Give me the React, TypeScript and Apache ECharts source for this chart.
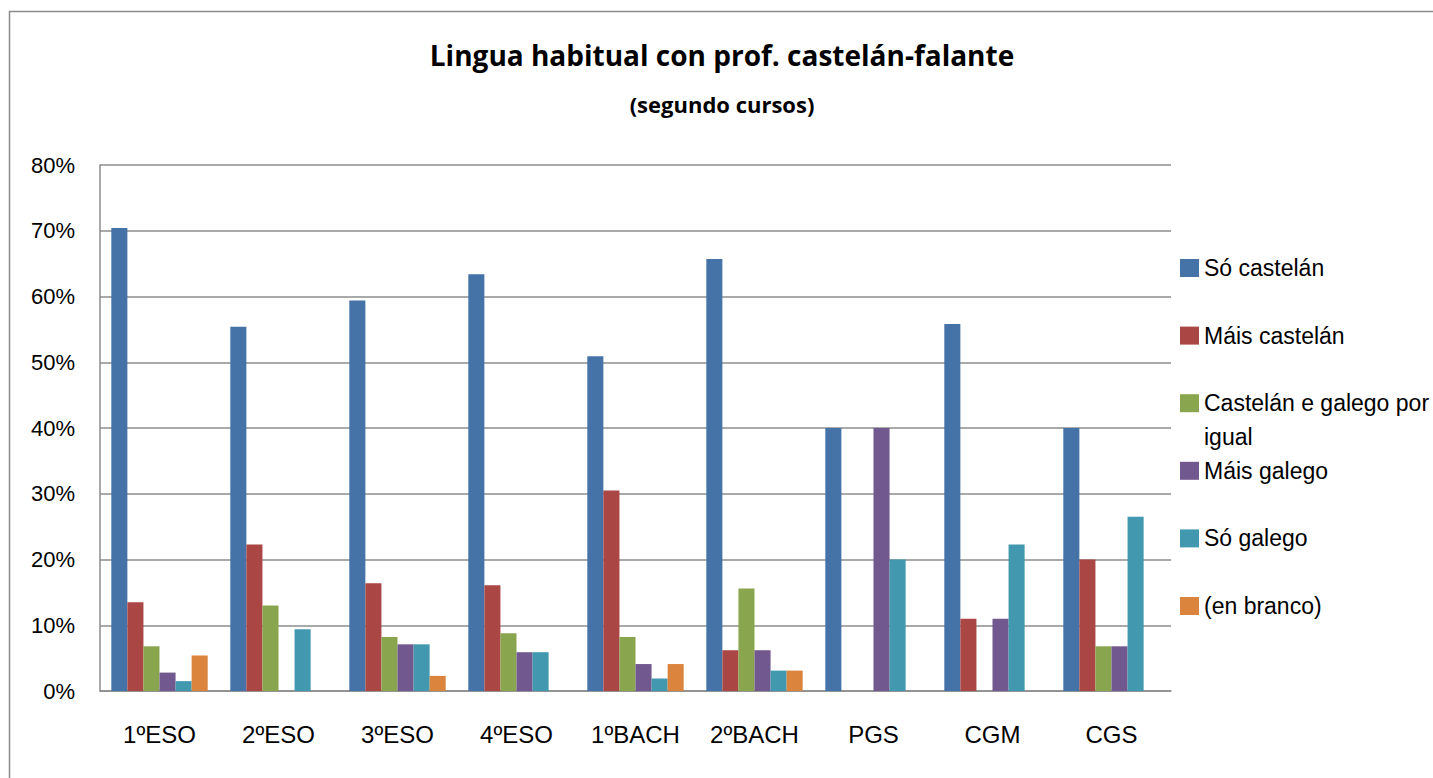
import React, { useEffect, useRef } from "react";
import * as echarts from "echarts";

const categories = ["1ºESO", "2ºESO", "3ºESO", "4ºESO", "1ºBACH", "2ºBACH", "PGS", "CGM", "CGS"];

const soCastelan = [70.4, 55.4, 59.4, 63.4, 50.9, 65.7, 40.0, 55.8, 40.0];
const maisCastelan = [13.5, 22.3, 16.4, 16.1, 30.5, 6.2, 0, 11.0, 20.0];
const castelanEGalego = [6.8, 13.0, 8.2, 8.8, 8.2, 15.6, 0, 0, 6.8];
const maisGalego = [2.8, 0, 7.1, 5.9, 4.1, 6.2, 40.0, 11.0, 6.8];
const soGalego = [1.5, 9.4, 7.1, 5.9, 1.9, 3.1, 20.0, 22.3, 26.5];
const enBranco = [5.4, 0, 2.3, 0, 4.1, 3.1, 0, 0, 0];

const seriesNames = [
  "Só castelán",
  "Máis castelán",
  "Castelán e galego por igual",
  "Máis galego",
  "Só galego",
  "(en branco)",
];
const seriesData = [soCastelan, maisCastelan, castelanEGalego, maisGalego, soGalego, enBranco];
const seriesColors = ["#4572A7", "#AA4643", "#89A54E", "#71588F", "#4198AF", "#DB843D"];

const yTicks = [0, 10, 20, 30, 40, 50, 60, 70, 80];

export default function App() {
  const ref = useRef<HTMLDivElement>(null);

  useEffect(() => {
    document.body.style.margin = "0";
    const chart = echarts.init(ref.current!, undefined, { renderer: "svg" });
    const font = "'Liberation Sans', Arial, sans-serif";

    const legends = seriesNames.map((name, i) => {
      const center = 268 + 67.6 * i;
      const isTwoLine = i === 2;
      return {
        show: true,
        orient: "vertical",
        left: 1180,
        top: isTwoLine ? center - 51 : center - 12,
        padding: 0,
        itemWidth: 19,
        itemHeight: 18,
        icon: "rect",
        data: [name],
        formatter: (n: string) =>
          n === "Castelán e galego por igual" ? "\nCastelán e galego por\nigual" : n,
        textStyle: {
          fontFamily: font,
          fontSize: 23,
          color: "#000",
          lineHeight: isTwoLine ? 34 : 24,
        },
      };
    });

    chart.setOption({
      animation: false,
      backgroundColor: "#fff",
      title: [
        {
          text: "Lingua habitual con prof. castelán-falante",
          left: 722,
          top: 40,
          padding: 0,
          textAlign: "center",
          textStyle: {
            fontFamily: "'Open Sans', sans-serif",
            fontWeight: "bold",
            fontSize: 28,
            lineHeight: 29,
            color: "#000",
          },
        },
        {
          text: "(segundo cursos)",
          left: 722,
          top: 93,
          padding: 0,
          textAlign: "center",
          textStyle: {
            fontFamily: "'Open Sans', sans-serif",
            fontWeight: "bold",
            fontSize: 22,
            lineHeight: 22,
            color: "#000",
          },
        },
      ],
      legend: legends,
      graphic: [
        {
          type: "rect",
          silent: true,
          z: -10,
          shape: { x: 9.5, y: 11.5, width: 1600, height: 1000 },
          style: { fill: "none", stroke: "#8a8a8a", lineWidth: 1.5 },
        },
      ],
      grid: { left: 100, right: 262, top: 165, bottom: 87, containLabel: false },
      xAxis: {
        type: "category",
        data: categories,
        axisLine: { show: true, lineStyle: { color: "#8c8c8c", width: 1.5 } },
        axisTick: { show: false },
        axisLabel: {
          fontFamily: font,
          fontSize: 24,
          lineHeight: 24,
          color: "#000",
          margin: 31,
        },
      },
      yAxis: {
        type: "value",
        min: 0,
        max: yTicks[yTicks.length - 1],
        interval: 10,
        axisLine: { show: true, lineStyle: { color: "#8c8c8c", width: 1.5 } },
        axisTick: { show: false },
        axisLabel: {
          fontFamily: font,
          fontSize: 22,
          color: "#000",
          margin: 25,
          formatter: (v: number) => `${v}%`,
        },
        splitLine: { show: true, lineStyle: { color: "#8c8c8c", width: 1.5 } },
      },
      series: seriesNames.map((name, i) => ({
        name,
        type: "bar",
        data: seriesData[i],
        itemStyle: { color: seriesColors[i] },
        barGap: "0%",
        barCategoryGap: "19%",
      })),
    });

    return () => chart.dispose();
  }, []);

  return (
    <div
      ref={ref}
      style={{ position: "absolute", left: 0, top: 0, width: 1433, height: 778 }}
    />
  );
}
